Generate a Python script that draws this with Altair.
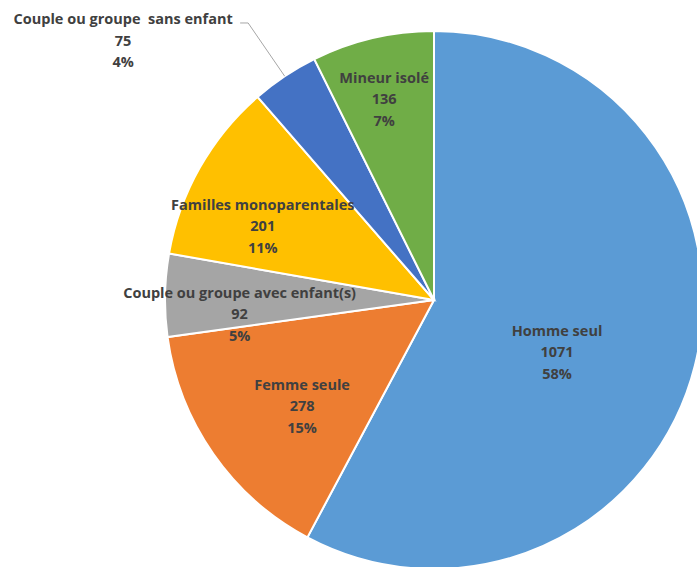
import altair as alt
import pandas as pd

# ---- data ----
categories = [
    "Homme seul",
    "Femme seule",
    "Couple ou groupe avec enfant(s)",
    "Familles monoparentales",
    "Couple ou groupe  sans enfant",
    "Mineur isolé",
]
counts = [1071, 278, 92, 201, 75, 136]
colors = ["#5B9BD5", "#ED7D31", "#A5A5A5", "#FFC000", "#4472C4", "#70AD47"]

df = pd.DataFrame({"cat": categories, "n": counts, "idx": list(range(len(categories)))})

# ---- layout (code side) ----
W, H = 697, 567
CX, CY, R = 434, 300, 269
label_r = [134, 170, 195, 186, 404, 206]          # label radius per slice
label_shift = [9.3, -4.2, -5.5, -6.5, -16.6, -0.8]  # degrees from slice mid
FONT = "Open Sans"
FS = 14.5
LH = 21.5
TXT = "#404040"

r_expr = "[" + ",".join(str(v) for v in label_r) + "][datum.idx]"
s_expr = "[" + ",".join(str(v) for v in label_shift) + "][datum.idx]"

base = alt.Chart(df)

pie = base.mark_arc(outerRadius=R, stroke="white", strokeWidth=2).encode(
    theta=alt.Theta("n:Q", stack=True),
    color=alt.Color("cat:N", scale=alt.Scale(domain=categories, range=colors), legend=None),
    order=alt.Order("idx:Q"),
    x=alt.value(CX),
    y=alt.value(CY),
)

geo = base.transform_joinaggregate(total="sum(n)").transform_window(
    cum="sum(n)", sort=[alt.SortField("idx")], frame=[None, 0]
).transform_calculate(
    mid="(datum.cum - datum.n/2)/datum.total*2*PI",
).transform_calculate(
    ang=f"datum.mid + ({s_expr})*PI/180",
    lr=r_expr,
).transform_calculate(
    lx=f"{CX} + datum.lr*sin(datum.ang)",
    ly=f"{CY} - datum.lr*cos(datum.ang)",
    ex=f"{CX} + {R}*sin(datum.mid)",
    ey=f"{CY} - {R}*cos(datum.mid)",
    pct="format(datum.n/datum.total, '.0%')",
).transform_calculate(
    ty=f"datum.ly - {LH}",
    txt="replace(datum.cat, '  ', '\\u00a0 ') + '\\n' + datum.n + '\\n' + datum.pct",
)

labels = geo.mark_text(
    font=FONT, fontSize=FS, fontWeight="bold", color=TXT,
    align="center", baseline="middle", lineBreak="\n", lineHeight=LH,
).encode(
    x=alt.X("lx:Q", scale=None),
    y=alt.Y("ty:Q", scale=None),
    text="txt:N",
)

lead = geo.transform_filter("datum.idx == 4").transform_calculate(
    bx="datum.lx + 125", by="datum.ly - 19", hx="datum.lx + 117"
)
leader1 = lead.mark_rule(color="#A6A6A6", strokeWidth=1).encode(
    x=alt.X("ex:Q", scale=None), y=alt.Y("ey:Q", scale=None),
    x2="bx:Q", y2="by:Q",
)
leader2 = lead.mark_rule(color="#A6A6A6", strokeWidth=1).encode(
    x=alt.X("bx:Q", scale=None), y=alt.Y("by:Q", scale=None),
    x2="hx:Q", y2="by:Q",
)

chart = alt.layer(pie, leader1, leader2, labels).properties(
    width=W, height=H, padding=0, autosize=alt.AutoSizeParams(type="none"),
    background="white",
).configure_view(stroke=None)

chart.save("out.html", embed_options={"renderer": "svg", "actions": False})
